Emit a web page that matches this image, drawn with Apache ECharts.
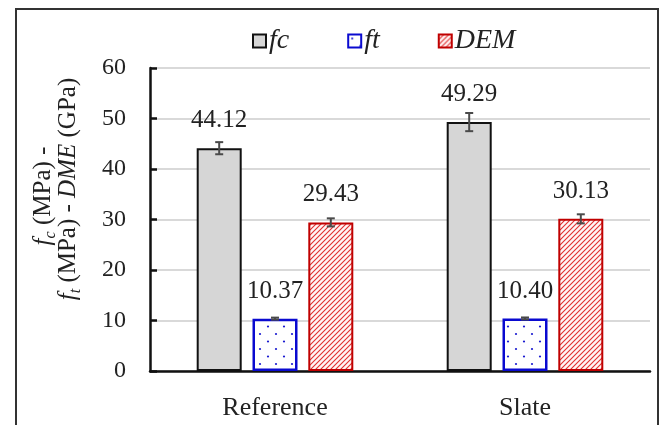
<!DOCTYPE html>
<html>
<head>
<meta charset="utf-8">
<script src="https://cdn.jsdelivr.net/npm/echarts@6/dist/echarts.min.js"></script>
<style>html,body{margin:0;padding:0;background:#fff;}#c{width:665px;height:425px;}</style>
</head>
<body>
<div id="c"></div>
<script>
const categories = ['Reference', 'Slate'];
const seriesNames = ['fc', 'ft', 'DEM'];
const fcValues = [44.12, 49.29];
const ftValues = [10.37, 10.40];
const demValues = [29.43, 30.13];
const fcErr = [1.2, 1.8];
const ftErr = [0.2, 0.2];
const demErr = [0.8, 0.9];

const FONT = 'Liberation Serif';

function dotPattern() {
  const c = document.createElement('canvas');
  c.width = 16; c.height = 15;
  const g = c.getContext('2d');
  g.fillStyle = '#ffffff'; g.fillRect(0, 0, 16, 15);
  g.fillStyle = '#1a1ad0';
  g.beginPath(); g.arc(4, 4, 1.1, 0, Math.PI * 2); g.fill();
  g.beginPath(); g.arc(12, 11.5, 1.1, 0, Math.PI * 2); g.fill();
  return c;
}
function hatchPattern() {
  const s = 5;
  const c = document.createElement('canvas');
  c.width = s; c.height = s;
  const g = c.getContext('2d');
  g.fillStyle = '#fff6f6'; g.fillRect(0, 0, s, s);
  g.strokeStyle = '#e03030'; g.lineWidth = 1.1;
  g.beginPath();
  g.moveTo(-1, s + 1); g.lineTo(s + 1, -1);
  g.moveTo(-1, 1); g.lineTo(1, -1);
  g.moveTo(s - 1, s + 1); g.lineTo(s + 1, s - 1);
  g.stroke();
  return c;
}

const BAR_W = 0.18, BAR_GAP = 0.24;
const valueSets = [fcValues, ftValues, demValues];
const errSets = [fcErr, ftErr, demErr];
const errData = [];
valueSets.forEach((vals, k) => vals.forEach((v, i) => errData.push([i, v, errSets[k][i], k])));

const nameRich = {
  i: {fontFamily: FONT, fontStyle: 'italic', fontSize: 25, lineHeight: 25, verticalAlign: 'top', fill: '#222'},
  n: {fontFamily: FONT, fontSize: 25, lineHeight: 25, verticalAlign: 'top', fill: '#222'},
  s: {fontFamily: FONT, fontStyle: 'italic', fontSize: 16, lineHeight: 16, verticalAlign: 'top', padding: [12, 0, 0, 0], fill: '#222'}
};

const chart = echarts.init(document.getElementById('c'), null, {renderer: 'canvas'});
const labelCfg = {
  show: true, position: 'top', distance: 15,
  fontFamily: FONT, fontSize: 25, color: '#222',
  formatter: p => p.value.toFixed(2)
};
chart.setOption({
  backgroundColor: '#ffffff',
  animation: false,
  textStyle: {fontFamily: FONT},
  graphic: [
    {type: 'rect', shape: {x: 16, y: 9, width: 642, height: 440}, style: {fill: 'none', stroke: '#333', lineWidth: 2}, silent: true},
    {type: 'text', x: 31, y: 196, rotation: Math.PI / 2,
      style: {text: '{i|f}{s|c}{n| (MPa) -}', align: 'center', verticalAlign: 'top', rich: nameRich}},
    {type: 'text', x: 56, y: 189, rotation: Math.PI / 2,
      style: {text: '{i|f}{s|t}{n| (MPa) - }{i|DME}{n| (GPa)}', align: 'center', verticalAlign: 'top', rich: nameRich}}
  ],
  legend: {
    data: seriesNames, left: 247, top: 22, itemWidth: 13, itemHeight: 13, itemGap: 58,
    icon: 'rect',
    textStyle: {fontFamily: FONT, fontStyle: 'italic', fontSize: 28, color: '#222', padding: [0, 0, 0, -2]}
  },
  grid: {left: 150, right: 15, top: 68, bottom: 54, containLabel: false},
  xAxis: {
    type: 'category', data: categories,
    axisLine: {lineStyle: {color: '#111', width: 2.5}},
    axisTick: {inside: true, length: 7, lineStyle: {color: '#111', width: 2.5}},
    axisLabel: {fontFamily: FONT, fontSize: 26, color: '#222', margin: 24}
  },
  yAxis: {
    type: 'value', min: 0, max: 60, interval: 10,
    axisLine: {show: true, lineStyle: {color: '#111', width: 2.5}},
    axisTick: {show: true, inside: true, length: 7, lineStyle: {color: '#111', width: 2.5}},
    axisLabel: {fontFamily: FONT, fontSize: 24, color: '#222', margin: 24},
    splitLine: {lineStyle: {color: '#d9d9d9', width: 2}}
  },
  series: [
    {name: 'fc', type: 'bar', data: fcValues, barWidth: (BAR_W * 100) + '%', barGap: (BAR_GAP * 100) + '%',
      itemStyle: {color: '#d6d6d6', borderColor: '#111', borderWidth: 2}, label: labelCfg},
    {name: 'ft', type: 'bar', data: ftValues, barWidth: (BAR_W * 100) + '%', barGap: (BAR_GAP * 100) + '%',
      itemStyle: {color: {image: dotPattern(), repeat: 'repeat'}, borderColor: '#0a0ad0', borderWidth: 2.5}, label: labelCfg},
    {name: 'DEM', type: 'bar', data: demValues, barWidth: (BAR_W * 100) + '%', barGap: (BAR_GAP * 100) + '%',
      itemStyle: {color: {image: hatchPattern(), repeat: 'repeat'}, borderColor: '#c00000', borderWidth: 2}, label: labelCfg},
    {name: 'err', type: 'custom', z: 5, data: errData,
      renderItem: function (params, api) {
        const i = api.value(0), v = api.value(1), e = api.value(2), k = api.value(3);
        const band = api.size([1, 0])[0];
        const off = (k - 1) * band * BAR_W * (1 + BAR_GAP);
        const top = api.coord([i, v + e]);
        const bot = api.coord([i, v - e]);
        const x = top[0] + off, hw = 4;
        const st = {stroke: '#4a4a4a', lineWidth: 2};
        return {type: 'group', children: [
          {type: 'line', shape: {x1: x, y1: top[1], x2: x, y2: bot[1]}, style: st},
          {type: 'line', shape: {x1: x - hw, y1: top[1], x2: x + hw, y2: top[1]}, style: st},
          {type: 'line', shape: {x1: x - hw, y1: bot[1], x2: x + hw, y2: bot[1]}, style: st}
        ]};
      }
    }
  ]
});
</script>
</body>
</html>
